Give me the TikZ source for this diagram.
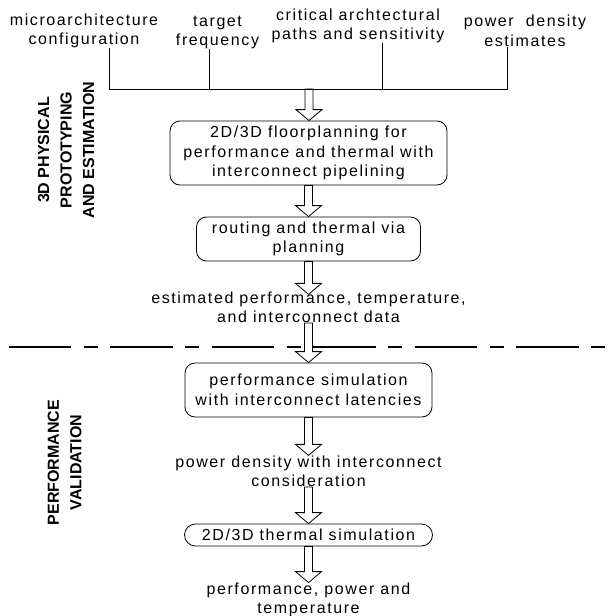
\documentclass[tikz,border=0pt]{standalone}
\usepackage{fontspec}
\setmainfont{Liberation Sans}[LetterSpace=10]
\newfontfamily\sidefont{Liberation Sans}
\usetikzlibrary{positioning,calc}

\newcommand{\blockarrow}[2]{%
  \draw[blockline] let \p1=(#1), \p2=(#2) in
    (\x1-4pt,\y1) -- (\x1-4pt,\y2+11pt) -- (\x1-13pt,\y2+11pt) -- (\x1,\y2)
    -- (\x1+13pt,\y2+11pt) -- (\x1+4pt,\y2+11pt) -- (\x1+4pt,\y1) -- cycle;}

\begin{document}
\begin{tikzpicture}[%
    x=1pt, y=-1pt,
    on grid,
    font=\fontsize{16}{19.5}\selectfont,
    box/.style={draw, line width=0.8pt, rounded corners=10pt, align=center, inner sep=0pt},
    txt/.style={align=center, inner sep=0pt},
    side/.style={align=center, inner sep=0pt, rotate=90,
      font=\sidefont\bfseries\fontsize{16}{22.5}\selectfont},
    blockline/.style={line width=0.8pt},
    bus/.style={line width=0.8pt}
  ]
  \useasboundingbox (0,0) rectangle (615,616);

  \node[txt] (micro) at (84,30.7) {microarchitecture\\configuration};
  \node[txt] (target) at (217.5,32.4) {target\\frequency};
  \node[txt] (crit) at (358,25.7) {critical archtectural\\paths and sensitivity};
  \node[txt] (power) at (525,30.7) {power\ \ density\\estimates};

  \coordinate (b1) at (108.9,89);
  \coordinate (b2) at (209,89);
  \coordinate (b3) at (382.6,89);
  \coordinate (b4) at (507.7,89);
  \coordinate (hub) at (309,89);

  \draw[bus] (b1) -- (b4);
  \draw[bus] (micro.south -| b1) -- (b1);
  \draw[bus] (target.south -| b2) -- (b2);
  \draw[bus] (crit.south -| b3) -- (b3);
  \draw[bus] (power.south -| b4) -- (b4);

  \node[box, minimum width=277pt, minimum height=64pt] (floor) at (308.5,153)
    {2D/3D floorplanning for\\performance and thermal with\\interconnect pipelining};
  \node[box, minimum width=224pt, minimum height=44pt] (route) [below=86pt of floor]
    {routing and thermal via\\planning};
  \node[txt] (estdata) [below=68.2pt of route]
    {estimated performance, temperature,\\and interconnect data};
  \node[box, minimum width=247pt, minimum height=54pt] (simbox) [below=82.8pt of estdata]
    {performance simulation\\with interconnect latencies};
  \node[txt] (powdata) [below=81.2pt of simbox]
    {power density with interconnect\\consideration};
  \node[box, rounded corners=11pt, minimum width=248pt, minimum height=22pt] (thermal)
    [below=63.8pt of powdata] {2D/3D thermal simulation};
  \node[txt] (result) [below=65pt of thermal]
    {performance, power and\\temperature};

  \node[side] (proto) at (66,150) {3D PHYSICAL\\PROTOTYPING\\AND ESTIMATION};
  \node[side] (valid) at (64.5,462.5) {PERFORMANCE\\VALIDATION};

  \coordinate (sepl) at (8.7,347);
  \coordinate (sepr) at (615,347);
  \draw[line width=2.5pt, dash pattern=on 62.3pt off 12.6pt on 14pt off 12.6pt] (sepl) -- (sepr);

  \blockarrow{hub}{floor.north}
  \blockarrow{floor.south}{route.north}
  \blockarrow{route.south}{[yshift=-3pt]estdata.north}
  \blockarrow{estdata.south}{simbox.north}
  \blockarrow{simbox.south}{powdata.north}
  \blockarrow{powdata.south}{thermal.north}
  \blockarrow{thermal.south}{result.north}
\end{tikzpicture}
\end{document}
